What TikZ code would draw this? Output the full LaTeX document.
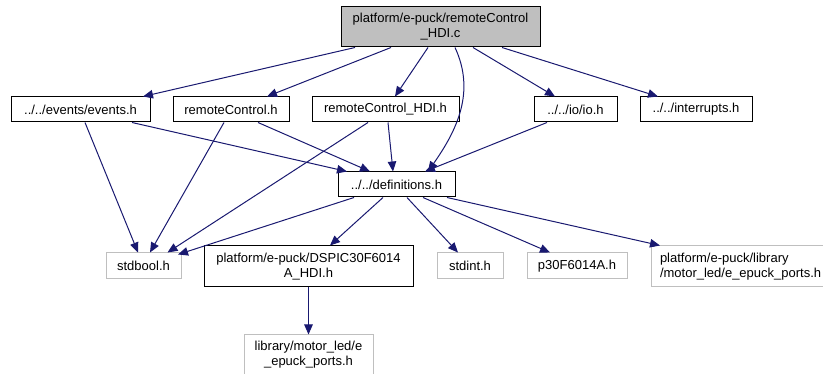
\documentclass[tikz,border=0pt]{standalone}
\usepackage{fontspec}
\setmainfont{Liberation Sans}
\usetikzlibrary{arrows.meta}

\definecolor{midnight}{HTML}{191970}
\tikzset{
  box/.style={draw=black, line width=1pt, fill=white, inner sep=0pt,
    minimum height=25pt, font=\fontsize{13}{15}\selectfont, align=center},
  sysbox/.style={box, draw=black!25},
  rootbox/.style={box, fill=black!25, minimum height=40pt},
  edge/.style={->, draw=midnight, line width=1pt},
}

\begin{document}
\begin{tikzpicture}[x=1pt, y=-1pt, >={Triangle[length=10pt,width=8.5pt]}]
    \useasboundingbox (0,0) rectangle (823,374);

    % 1. 源文件
    \node[rootbox, minimum width=199pt] (root) at (440.5,27) {platform/e-puck/remoteControl\\\_HDI.c};

    % 2. 第二层头文件
    \node[box, minimum width=139pt] (events) at (80.5,109.5) {../../events/events.h};
    \node[box, minimum width=116pt] (rc) at (231,109.5) {remoteControl.h};
    \node[box, minimum width=147pt] (rchdi) at (385.5,109.5) {remoteControl\_HDI.h};
    \node[box, minimum width=83pt] (io) at (575.5,109.5) {../../io/io.h};
    \node[box, minimum width=112pt] (intr) at (696,109.5) {../../interrupts.h};

    % 3. definitions.h
    \node[box, minimum width=117pt] (defs) at (396.5,184.5) {../../definitions.h};

    % 4. 第三层
    \node[sysbox, minimum width=75pt, minimum height=26pt] (stdbool) at (143.5,266) {stdbool.h};
    \node[box, minimum width=209pt, minimum height=41pt] (dspic) at (308.5,266.5) {platform/e-puck/DSPIC30F6014\\A\_HDI.h};
    \node[sysbox, minimum width=66pt, minimum height=26pt] (stdint) at (470,266) {stdint.h};
    \node[sysbox, minimum width=100pt, minimum height=26pt] (p30) at (577,266) {p30F6014A.h};
    \node[sysbox, minimum width=178pt, minimum height=41pt, align=left, text width=160pt] (lib) at (740,266.5) {platform/e-puck/library\\/motor\_led/e\_epuck\_ports.h};

    % 5. 最底层
    \node[sysbox, minimum width=129pt, minimum height=40pt] (motor) at (308.5,355) {library/motor\_led/e\\\_epuck\_ports.h};

    % 6. 源文件的包含关系
    \draw[edge] ([xshift=-85.5pt]root.south) -- ([xshift=62.5pt]events.north);
    \draw[edge] ([xshift=-49.5pt]root.south) -- ([xshift=36pt]rc.north);
    \draw[edge] ([xshift=-12.5pt]root.south) -- ([xshift=9.5pt]rchdi.north);
    \draw[edge] ([xshift=14.5pt]root.south) to[out=-65, in=55] ([xshift=31.5pt]defs.north);
    \draw[edge] ([xshift=32.5pt]root.south) -- ([xshift=-20.5pt]io.north);
    \draw[edge] ([xshift=61.5pt]root.south) -- ([xshift=-38pt]intr.north);

    % 7. 第二层到下层
    \draw[edge] ([xshift=4.5pt]events.south) -- ([xshift=-5.5pt]stdbool.north);
    \draw[edge] ([xshift=51.5pt]events.south) -- ([xshift=-49.5pt]defs.north);
    \draw[edge] ([xshift=-7pt]rc.south) -- ([xshift=6.5pt]stdbool.north);
    \draw[edge] ([xshift=27pt]rc.south) -- ([xshift=-26.5pt]defs.north);
    \draw[edge] ([xshift=-17.5pt]rchdi.south) -- ([xshift=24pt]stdbool.north);
    \draw[edge] ([xshift=2.5pt]rchdi.south) -- ([xshift=-3.5pt]defs.north);
    \draw[edge] ([xshift=-28.5pt]io.south) -- ([xshift=28.5pt]defs.north);

    % 8. definitions.h 的包含关系
    \draw[edge] ([xshift=-42.5pt]defs.south) -- ([xshift=34.5pt,yshift=-2pt]stdbool.north);
    \draw[edge] ([xshift=-13.5pt]defs.south) -- ([xshift=21.5pt]dspic.north);
    \draw[edge] ([xshift=10.5pt]defs.south) -- ([xshift=-12pt]stdint.north);
    \draw[edge] ([xshift=26.5pt]defs.south) -- ([xshift=-27pt]p30.north);
    \draw[edge] ([xshift=50.5pt]defs.south) -- ([xshift=-80pt]lib.north);
    \draw[edge] (dspic) -- (motor);

\end{tikzpicture}
\end{document}
